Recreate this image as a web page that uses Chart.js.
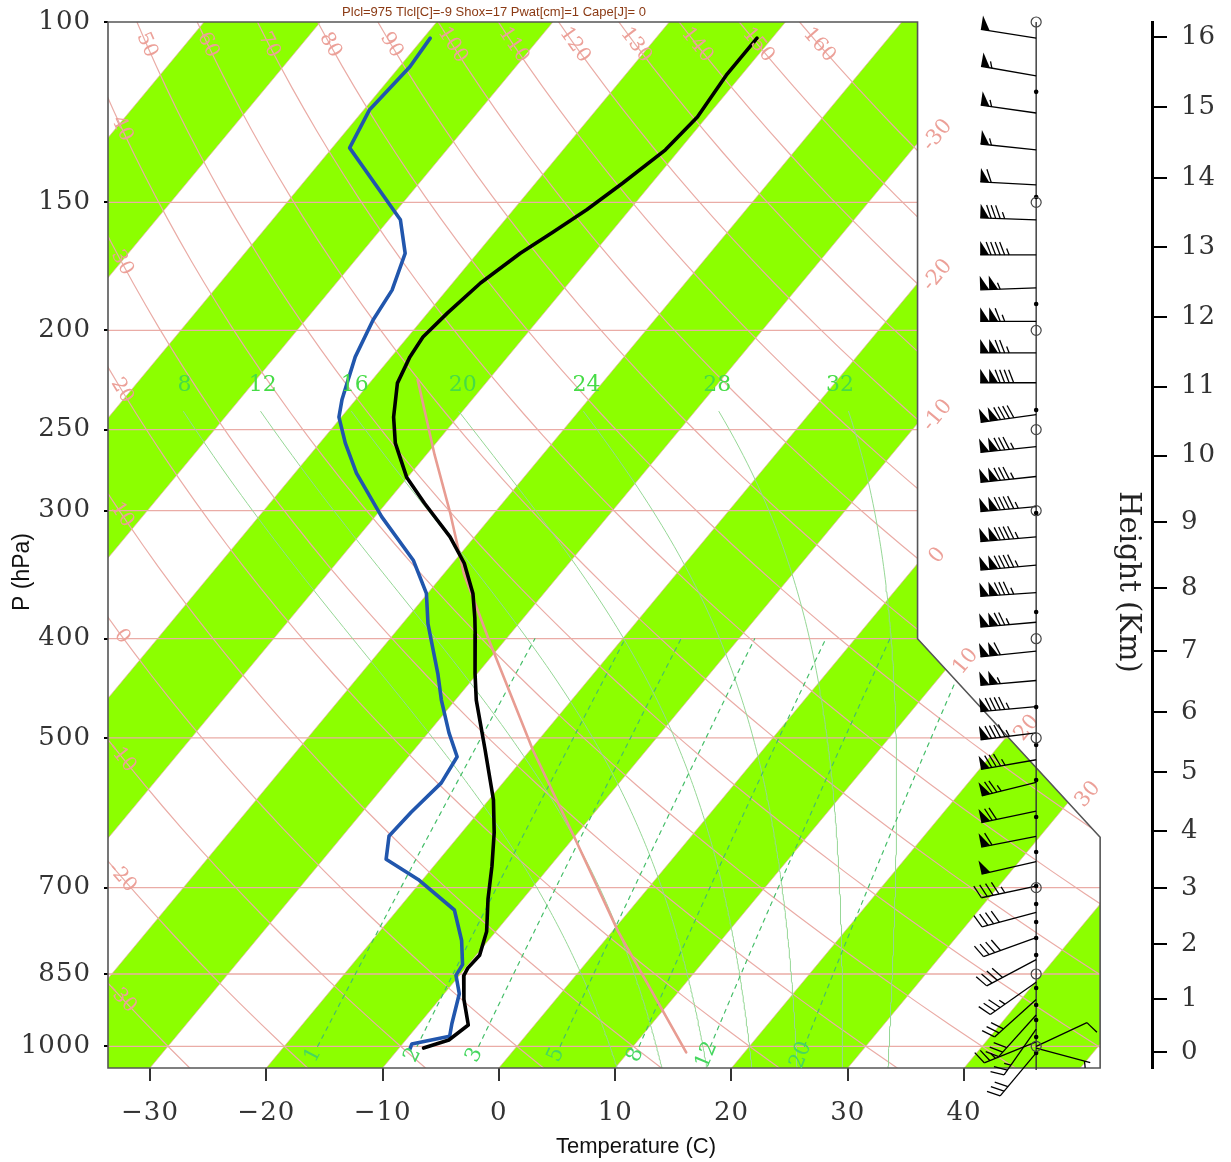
<!DOCTYPE html>
<html><head><meta charset="utf-8">
<script src="https://cdn.jsdelivr.net/npm/chart.js@4.4.1/dist/chart.umd.min.js"></script>
<style>html,body{margin:0;padding:0;background:#fff}#wrap{width:1231px;height:1162px;position:relative}</style>
</head><body><div id="wrap"><canvas id="c"></canvas></div>
<script>
// ---------------- data ----------------
const titleText = "Plcl=975 Tlcl[C]=-9 Shox=17 Pwat[cm]=1 Cape[J]= 0";
const pressureTicks = [100,150,200,250,300,400,500,700,850,1000];
const tempTicks = [-30,-20,-10,0,10,20,30,40];
const heightKm = [0,1,2,3,4,5,6,7,8,9,10,11,12,13,14,15,16];
const heightP  = [1013,899,795,701,616,540,472,411,357,308,265,227,194,166,142,121,103.5];

// temperature profile (black)
const tempP = [103.7,112.7,123.8,133.3,143.6,152.5,160.3,168.2,179.8,192.3,203.0,212.3,225.2,243.1,257.7,278.2,295.0,318.2,337.6,361.3,381.6,395.9,432.6,459.2,513.4,574.7,618.6,667.0,718.0,772.4,815.0,838.8,853.6,900.0,953.2,985.9,1004.0];
const tempC = [-51.3,-51.3,-50.8,-51.2,-52.5,-53.7,-55.0,-56.3,-57.6,-58.3,-58.7,-58.4,-57.6,-55.5,-53.5,-50.1,-46.7,-42.1,-39.0,-36.1,-34.2,-33.0,-30.2,-28.2,-23.9,-19.6,-17.2,-15.0,-13.0,-10.8,-9.7,-9.8,-9.6,-7.9,-5.7,-6.3,-7.9];
// dew point profile (blue)
const dewP = [103.7,110.6,121.9,132.7,156.0,168.2,182.7,195.4,212.3,233.6,243.1,257.7,275.7,304.2,335.3,361.3,386.8,432.6,459.2,494.4,521.6,553.1,590.8,623.3,656.6,687.2,736.1,788.4,832.3,852.6,888.6,950.6,977.6,995.0,1006.0];
const dewC = [-79.4,-79.1,-79.5,-78.5,-69.0,-66.2,-64.7,-64.2,-63.1,-61.2,-60.2,-57.8,-54.7,-49.4,-43.6,-40.1,-37.8,-33.4,-31.2,-28.2,-25.8,-25.3,-25.8,-26.0,-24.6,-20.4,-15.1,-12.3,-10.5,-10.3,-8.7,-7.2,-6.5,-9.2,-9.0];
// parcel curve (salmon)
const parcelP = [223.5,264.5,301.5,345.5,401.2,513.4,628.5,772.4,1014];
const parcelC = [-56.1,-49.3,-43.8,-38.3,-31.4,-19.8,-9.7,0.5,15.0];

// winds (kt, deg)
const windP   = [103.7,112.9,122.7,133.3,144.2,156.0,168.8,181.8,196.0,210.4,225.0,241.7,259.7,277.8,297.3,318.1,339.1,360.6,385.5,411.3,439.4,466.1,494.4,525.1,552.5,589.3,623.8,660.2,697.6,740.2,783.1,822.9,866.0,900,932,962,990,1000,1004,1015];
const windSpd = [50,55,55,55,60,85,95,105,115,125,140,140,135,135,145,145,145,135,125,110,105,95,95,85,75,70,60,50,45,40,40,40,35,30,30,25,25,10,5,30];
const windDir = [279,280,278,276,273,272,270,268,270,270,270,262,264,264,265,265,265,266,265,264,265,265,263,260,256,258,259,257,258,255,250,242,235,228,222,215,248,65,105,220];
const levelDotP = [117.0,148.2,188.5,239.2,301.6,376.7,466.5,507.9,549.6,597.3,646.2,697.4,726.2,756.2,784.0,814.4,877.1,911.2,942.6,979.3,1015.1];
const mandatoryP = [100,150,200,250,300,400,500,700,850,1000];

// background line families
const dryThetaC = [-30,-20,-10,0,10,20,30,40,50,60,70,80,90,100,110,120,130,140,150,160];
const moistThetaW = [8,12,16,20,24,28,32];
const mixRatio = [1,2,3,5,8,12,20];
const isothermC = [-120,-110,-100,-90,-80,-70,-60,-50,-40,-30,-20,-10,0,10,20,30,40,50];
const stripeStartC = [-120,-100,-80,-60,-40,-20,0,20,40];
const isothermLabelC = [-30,-20,-10,0,10,20,30];

// ---------------- diagram geometry ----------------
const P_BOT = 1050, P_TOP = 100, SKEW = 73.1;
const X_MIN = -33.61, X_MAX = 56.16, WIND_X = 46.2;
const frameX = [X_MIN, X_MIN, 36, 36, 51.7, 51.7];
const frameP = [1050, 100, 100, 400, 625, 1050];

const sx = (T,p) => T + SKEW*Math.log10(P_BOT/p);
const logSpace = (p0,p1,n) => Array.from({length:n+1},(_,i)=>p0*Math.pow(p1/p0,i/n));
const dryT = (th,p) => (th+273.15)*Math.pow(p/1000,0.2857) - 273.15;
const mixT = (wg,p) => { const w=wg/1000, e=w*p/(0.622+w), l=Math.log(e/6.112); return 243.5*l/(17.67-l); };
function esat(Tc){ return 6.112*Math.exp(17.67*Tc/(Tc+243.5)); }
function dTdp(Tk,p){ const Rd=287.04,cp=1005.7,Lv=2.501e6,eps=0.622; const e=esat(Tk-273.15); const rs=eps*e/(p-e);
  return (Rd*Tk+Lv*rs)/(cp+Lv*Lv*rs*eps/(Rd*Tk*Tk))/p; }
function rk(T,p,h){ const k1=dTdp(T,p),k2=dTdp(T+h/2*k1,p+h/2),k3=dTdp(T+h/2*k2,p+h/2),k4=dTdp(T+h*k3,p+h); return T+h/6*(k1+2*k2+2*k3+k4); }
function moistCurve(tw){
  const up=[]; let T=tw+273.15, p=1000;
  while(p>215){ T=rk(T,p,-5); p-=5; up.push([p,T-273.15]); }
  const dn=[]; T=tw+273.15; p=1000;
  while(p<1050){ T=rk(T,p,5); p+=5; dn.push([p,T-273.15]); }
  return dn.reverse().concat([[1000,tw]]).concat(up);
}
const moistCurves = moistThetaW.map(moistCurve);

const PINK='rgb(234,172,166)', PINK_TXT='rgb(236,160,152)', GREEN='#8CFF00';
const datasets = [];
const line = (pts, o) => Object.assign({data:pts.map(([x,y])=>({x,y})), showLine:true, pointRadius:0, tension:0, fill:false, borderCapStyle:'round', borderJoinStyle:'round'}, o);

datasets.push(line(tempP.map((p,i)=>[sx(tempC[i],p),p]), {borderColor:'#000', borderWidth:3.6, order:1}));
datasets.push(line(dewP.map((p,i)=>[sx(dewC[i],p),p]), {borderColor:'#2156ad', borderWidth:3.6, order:2}));
datasets.push(line(parcelP.map((p,i)=>[sx(parcelC[i],p),p]), {borderColor:'rgb(232,156,146)', borderWidth:2.6, order:5}));
mixRatio.forEach(w=>datasets.push(line(logSpace(1000,400,40).map(p=>[sx(mixT(w,p),p),p]), {borderColor:'rgb(70,190,105)', borderWidth:1.2, borderDash:[4,5], order:30})));
moistCurves.forEach(c=>datasets.push(line(c.filter(d=>d[0]>=240).map(([p,T])=>[sx(T,p),p]), {borderColor:'rgb(150,215,150)', borderWidth:1, order:35})));
dryThetaC.forEach(th=>datasets.push(line(logSpace(1050,100,48).map(p=>[sx(dryT(th,p),p),p]), {borderColor:PINK, borderWidth:1.2, order:40})));
pressureTicks.slice(1).forEach(p=>datasets.push(line([[X_MIN-1,p],[X_MAX+1,p]], {borderColor:PINK, borderWidth:1.3, order:45})));
isothermC.forEach(T=>datasets.push(line([[sx(T,1050),1050],[sx(T,100),100]], {borderColor:'rgba(234,172,166,0.7)', borderWidth:1, order:50})));
stripeStartC.forEach(T=>datasets.push(line([[sx(T,1050),1050],[sx(T,100),100],[sx(T+10,100),100],[sx(T+10,1050),1050]], {borderWidth:0, fill:'shape', backgroundColor:GREEN, order:60})));

// ---------------- drawing helpers ----------------
function framePath(chart){ const xs=chart.scales.x, ys=chart.scales.y, ctx=chart.ctx; ctx.beginPath();
  frameX.forEach((x,i)=>{ const px=xs.getPixelForValue(x), py=ys.getPixelForValue(frameP[i]); i?ctx.lineTo(px,py):ctx.moveTo(px,py); }); ctx.closePath(); }
function rotText(ctx,t,x,y,a,font,color,align){ ctx.save(); ctx.translate(x,y); ctx.rotate(a); ctx.font=font; ctx.fillStyle=color; ctx.textAlign=align||'center'; ctx.textBaseline='middle'; ctx.fillText(t,0,0); ctx.restore(); }
function bisect(f,a,b){ let fa=f(a); for(let k=0;k<60;k++){ const m=Math.sqrt(a*b), fm=f(m); if((fm<0)===(fa<0)){a=m;fa=fm;} else b=m; } return Math.sqrt(a*b); }
const boundaryX = p => p<=400 ? 36 : (p>=625 ? 51.7 : 36+(51.7-36)*Math.log(p/400)/Math.log(625/400));

function drawLabels(chart){
  const ctx=chart.ctx, xs=chart.scales.x, ys=chart.scales.y, ca=chart.chartArea;
  const X=v=>xs.getPixelForValue(v), Y=p=>ys.getPixelForValue(p), P=y=>ys.getValueForPixel(y);
  const fPink='20px "DejaVu Serif"';
  const pTopLab=P(ca.top+23);
  dryThetaC.forEach(th=>{
    const f=p=>X(sx(dryT(th,p),p));
    let p=null;
    const xt=f(pTopLab);
    if(xt>ca.left+8 && xt<X(36)-10) p=pTopLab;
    else if(f(100)<ca.left+14 && f(1050)>ca.left+14) p=bisect(q=>f(q)-(ca.left+14),100,1050);
    if(p===null) return;
    const p2=p*1.02, a=Math.atan2(Y(p2)-Y(p), f(p2)-f(p));
    rotText(ctx,String(th),f(p),Y(p),a,fPink,PINK_TXT);
  });
  isothermLabelC.forEach(T=>{
    const p=bisect(q=>sx(T,q)-boundaryX(q),100,1050);
    const x=X(sx(T,p)), y=Y(p); const p2=p*0.9; const a=Math.atan2(Y(p2)-y, X(sx(T,p2))-x);
    rotText(ctx,String(T),x+20,y-8,a,'21px "DejaVu Serif"',PINK_TXT);
  });
  const pm=P(1055);
  mixRatio.forEach(w=>{ const x=X(sx(mixT(w,pm),pm)), y=Y(pm); const p2=pm*0.97; const a=Math.atan2(Y(p2)-y, X(sx(mixT(w,p2),p2))-x);
    rotText(ctx,String(w),x,y,a,'21px "DejaVu Serif"','rgb(70,215,95)'); });
  // moist adiabat labels: above the line, anchored on the curve at 255 hPa
  moistCurves.forEach((c,i)=>{ let best=c[0]; c.forEach(d=>{ if(Math.abs(d[0]-255)<Math.abs(best[0]-255)) best=d; });
    rotText(ctx,String(moistThetaW[i]),X(sx(best[1],best[0]))-17,385,0,'22px "DejaVu Serif"','rgb(70,220,70)'); });
}

function drawBarb(ctx,x0,y0,spd,dir){
  const L=56, r=dir*Math.PI/180, ux=Math.sin(r), uy=-Math.cos(r), nx=-uy, ny=ux;
  const tx=x0+ux*L, ty=y0+uy*L;
  ctx.beginPath(); ctx.moveTo(x0,y0); ctx.lineTo(tx,ty); ctx.stroke();
  let s=Math.round(spd/5)*5; const flags=Math.floor(s/50); s-=flags*50; const full=Math.floor(s/10); const half=(s%10)>=5;
  const FH=14, FW=9, BH=13, BL=5, SP=flags?4.5:6;
  let pos=0;
  for(let k=0;k<flags;k++){ const ax=tx-ux*pos, ay=ty-uy*pos; ctx.beginPath(); ctx.moveTo(ax,ay); ctx.lineTo(ax+nx*FH,ay+ny*FH); ctx.lineTo(ax-ux*FW,ay-uy*FW); ctx.closePath(); ctx.fill(); pos+=FW; }
  if(flags) pos+=2;
  for(let k=0;k<full;k++){ const ax=tx-ux*pos, ay=ty-uy*pos; ctx.beginPath(); ctx.moveTo(ax,ay); ctx.lineTo(ax+nx*BH+ux*BL,ay+ny*BH+uy*BL); ctx.stroke(); pos+=SP; }
  if(half){ if(!flags&&!full) pos+=SP; const ax=tx-ux*pos, ay=ty-uy*pos; ctx.beginPath(); ctx.moveTo(ax,ay); ctx.lineTo(ax+nx*BH*0.5+ux*BL*0.5,ay+ny*BH*0.5+uy*BL*0.5); ctx.stroke(); }
}
function drawWind(chart){
  const ctx=chart.ctx, xs=chart.scales.x, ys=chart.scales.y, ca=chart.chartArea;
  const x0=xs.getPixelForValue(WIND_X);
  ctx.save();
  ctx.strokeStyle='#333'; ctx.lineWidth=1.4;
  ctx.beginPath(); ctx.moveTo(x0,ca.top); ctx.lineTo(x0,ca.bottom+2); ctx.stroke();
  ctx.strokeStyle='#000'; ctx.fillStyle='#000'; ctx.lineWidth=1.3;
  windP.forEach((p,i)=>drawBarb(ctx,x0,ys.getPixelForValue(p),windSpd[i],windDir[i]));
  levelDotP.forEach(p=>{ ctx.beginPath(); ctx.arc(x0,ys.getPixelForValue(p),2.3,0,2*Math.PI); ctx.fill(); });
  ctx.strokeStyle='#444'; ctx.lineWidth=1.2;
  mandatoryP.forEach(p=>{ ctx.beginPath(); ctx.arc(x0,ys.getPixelForValue(p),5,0,2*Math.PI); ctx.stroke(); });
  ctx.restore();
}
function drawTitles(chart){
  const ctx=chart.ctx;
  rotText(ctx,titleText,494,12,0,'13px "Liberation Sans"','#8b3a14');
  rotText(ctx,'P (hPa)',23,572,-Math.PI/2,'23px "Liberation Sans"','#111');
  rotText(ctx,'Temperature (C)',636,1147,0,'22px "Liberation Sans"','#111');
  rotText(ctx,'Height (Km)',1128,582,Math.PI/2,'29px "DejaVu Serif"','#222');
}

const skewPlugin = {
  id:'skewt',
  beforeDraw(chart){ chart.ctx.letterSpacing='1px'; },
  beforeDatasetsDraw(chart){ const ctx=chart.ctx; ctx.letterSpacing='0px'; ctx.save(); framePath(chart); ctx.clip(); },
  afterDatasetsDraw(chart){
    const ctx=chart.ctx; ctx.restore(); ctx.letterSpacing='0px';
    ctx.save(); framePath(chart); ctx.strokeStyle='#555'; ctx.lineWidth=1.6; ctx.stroke(); ctx.restore();
    drawLabels(chart); drawWind(chart); drawTitles(chart);
  }
};

const noPad = s => { s.paddingTop=0; s.paddingBottom=0; s.paddingLeft=0; s.paddingRight=0; };
const tickFont = {family:'DejaVu Serif', size:26};
new Chart(document.getElementById('c'), {
  type:'scatter',
  data:{datasets},
  options:{
    responsive:true, maintainAspectRatio:false, animation:false, events:[],
    layout:{padding:{top:22,left:0,right:0,bottom:0}},
    plugins:{legend:{display:false}, tooltip:{enabled:false}},
    scales:{
      x:{type:'linear', min:X_MIN, max:X_MAX, position:'bottom',
        afterBuildTicks:s=>{ s.ticks=tempTicks.map(v=>({value:v})); },
        afterFit:s=>{ s.height=94; noPad(s); },
        grid:{drawOnChartArea:false, drawTicks:true, tickLength:13, color:'#333', lineWidth:2},
        border:{display:false},
        ticks:{autoSkip:false, maxRotation:0, padding:17, color:'#333', font:tickFont, callback:v=>(v<0?'\u2212':'')+Math.abs(v)}},
      y:{type:'logarithmic', reverse:true, min:100, max:1050, position:'left',
        afterBuildTicks:s=>{ s.ticks=pressureTicks.map(v=>({value:v})); },
        afterFit:s=>{ s.width=108; noPad(s); },
        grid:{drawOnChartArea:false, tickLength:4, color:'#000', lineWidth:2},
        border:{display:false},
        ticks:{autoSkip:false, padding:13, color:'#333', font:tickFont, callback:v=>String(v)}},
      y2:{type:'logarithmic', reverse:true, min:100, max:1050, position:'right',
        afterBuildTicks:s=>{ s.ticks=heightP.map(v=>({value:v})); },
        afterFit:s=>{ s.width=79; noPad(s); },
        grid:{drawOnChartArea:false, tickLength:15, color:'#000', lineWidth:2},
        border:{display:true, color:'#000', width:3},
        ticks:{autoSkip:false, padding:14, color:'#333', font:tickFont, callback:(v,i)=>String(heightKm[i])}}
    }
  },
  plugins:[skewPlugin]
});
</script></body></html>
